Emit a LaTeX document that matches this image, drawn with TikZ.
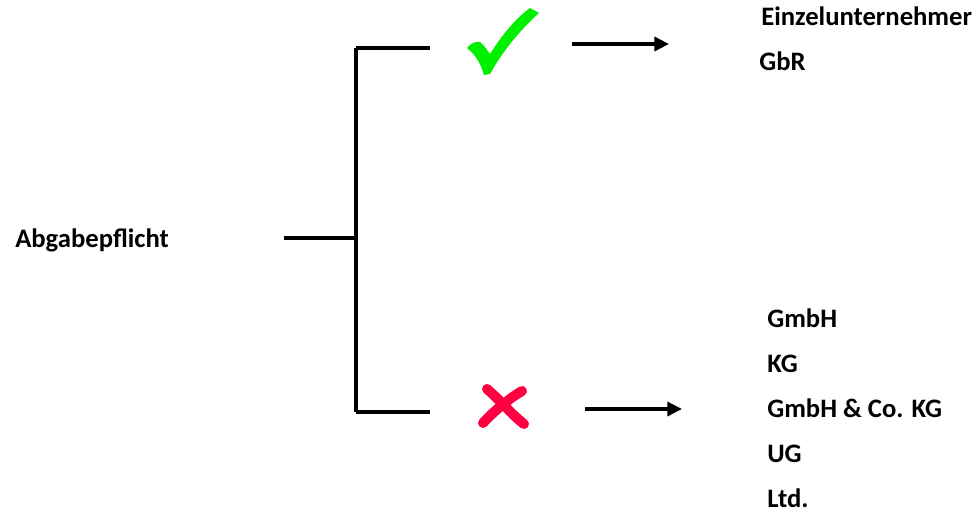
\documentclass[tikz,border=0pt]{standalone}
\usepackage{fontspec}
\setmainfont{Carlito}
\usepackage{xcolor}
\usetikzlibrary{positioning,arrows.meta}

\definecolor{checkgreen}{RGB}{0,240,0}
\definecolor{crossred}{RGB}{255,0,64}

\begin{document}
\begin{tikzpicture}[x=0.75pt,y=-0.75pt,
    lbl/.style={font=\bfseries\fontsize{20}{24}\selectfont, anchor=base west, inner sep=0pt},
    bar/.style={line width=2.6pt},
    arr/.style={line width=2.6pt, -{Triangle[length=11pt,width=10.5pt]}},
    xmark/.style={line width=7.5pt, line cap=round, crossred}]
  \useasboundingbox (0,0) rectangle (977,514);

  % Root label
  \node[lbl] (abgabe) at (15,247) {Abgabepflicht};

  % Bracket
  \coordinate (stem) at (284,238);
  \coordinate (fork) at (356,238);
  \coordinate (forktop) at (356,48);
  \coordinate (forkbot) at (356,412);
  \coordinate (yesend) at (430,48);
  \coordinate (noend) at (430,412);
  \draw[bar] (stem) -- (fork);
  \draw[bar] (forktop) -- (forkbot);
  \draw[bar] (forktop) -- (yesend);
  \draw[bar] (forkbot) -- (noend);

  % Check mark
  \fill[checkgreen] (467,48) .. controls (471,43) and (476,41) .. (480,42)
    .. controls (484,45) and (487,50) .. (490,54)
    .. controls (502,35) and (516,18) .. (530,8) -- (539,13)
    .. controls (520,30) and (502,52) .. (490,74) -- (484,75)
    .. controls (481,64) and (475,54) .. (467,48) -- cycle;

  % Cross mark
  \draw[xmark] (487,389) .. controls (500,400) and (510,413) .. (524,424);
  \draw[xmark] (522,391) .. controls (510,398) and (495,410) .. (483,423);

  % Arrows
  \coordinate (yesfrom) at (572,44);
  \coordinate (yesto) at (669,44);
  \coordinate (nofrom) at (585,409);
  \coordinate (noto) at (682,409);
  \draw[arr] (yesfrom) -- (yesto);
  \draw[arr] (nofrom) -- (noto);

  % Exempt forms
  \node[lbl] (einzel) at (761,25) {Einzelunternehmer};
  \node[lbl] (gbr) at (759,70) {GbR};

  % Liable forms
  \foreach \name/\txt/\y in {gmbh/GmbH/327, kg/KG/372.5, gmbhco/GmbH \& Co. KG/417,
                             ug/UG/462.5, ltd/Ltd./507} {
    \node[lbl] (\name) at (767,\y) {\txt};
  }
\end{tikzpicture}
\end{document}
